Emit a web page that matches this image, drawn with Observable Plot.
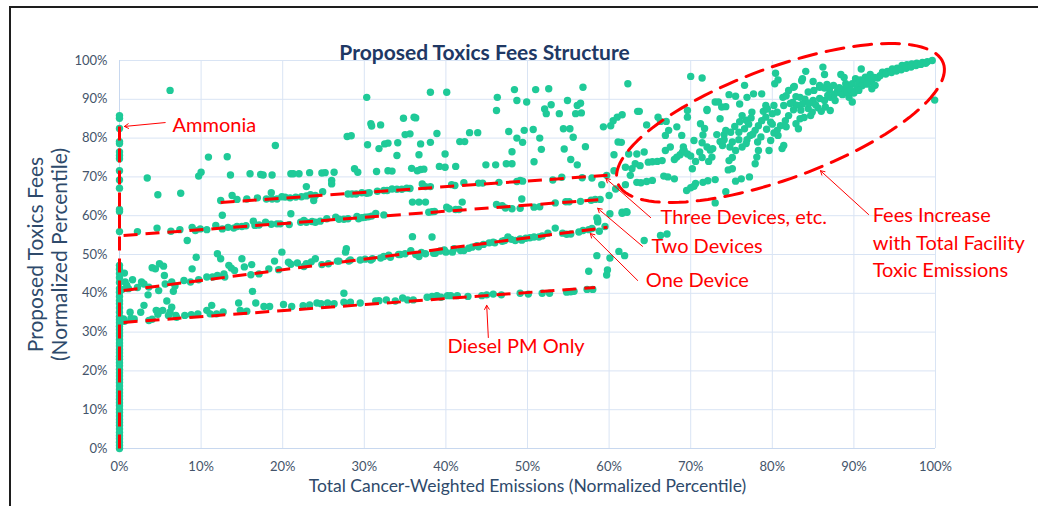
<!DOCTYPE html>
<html><head><meta charset="utf-8">
<script src="https://cdn.jsdelivr.net/npm/d3@7"></script>
<script src="https://cdn.jsdelivr.net/npm/@observablehq/plot@0.6"></script>
<style>
html,body{margin:0;padding:0;background:#fff;overflow:hidden;width:1038px;height:506px;}
#frame{position:absolute;left:9px;top:6px;width:1100px;height:600px;border:2px solid #1e1e1e;box-sizing:border-box;}
#chart{position:absolute;left:0;top:0;}
</style></head><body>
<div id="frame"></div><div id="chart"></div>
<script>
// ---------- data (x = emissions percentile %, y = fee percentile %) ----------
const xTicks = [0,10,20,30,40,50,60,70,80,90,100];
const yTicks = [0,10,20,30,40,50,60,70,80,90,100];

const ammoniaY = [0,0.8,1.6,2.5,3.3,4.1,5,5.9,6.7,7.5,8.4,9.3,10.1,11,11.8,12.7,13.5,14.4,15.2,16.1,17,17.8,18.7,19.5,20.4,21.3,22.1,23,23.8,24.7,25.5,26.4,27.2,28.1,29,29.8,30.7,31.5,32.4,33.2,34,35.1,36.2,37.3,38.1,39.2,40.3,41.2,42.8,44,45.1,46.2,47.2,55.9,61.1,61.6,67.1,69.2,71.6,74.7,75.5,76.4,78.6,79.1,82.5,85.1,85.8];

const dieselPM = [[0.5,33.4],[0.6,32.8],[1.3,35.1],[1.4,33.5],[1.8,33.4],[2.6,35.1],[3.0,36.9],[3.6,33.0],[4.0,33.3],[4.5,35.6],[4.7,34.6],[4.8,35.3],[5.3,35.6],[5.8,38.0],[6.0,34.3],[6.2,35.2],[6.4,36.4],[6.9,34.3],[7.0,33.8],[8.0,34.3],[8.8,34.5],[9.6,34.7],[10.7,35.6],[11.3,36.9],[11.1,34.7],[11.9,34.7],[12.7,35.2],[14.6,37.5],[14.8,35.6],[15.6,35.4],[16.3,40.5],[16.7,37.5],[17.7,36.6],[18.4,36.6],[20.1,37.1],[21.1,36.6],[22.5,36.8],[23.3,37.0],[24.2,37.5],[24.7,37.3],[25.5,37.5],[26.3,37.3],[27.5,40.0],[27.5,37.7],[28.3,37.7],[29.5,37.5],[31.4,38.0],[31.8,38.1],[32.7,38.3],[33.8,38.0],[34.7,38.8],[35.3,38.3],[36.0,38.3],[37.7,39.0],[38.3,39.2],[38.9,39.4],[39.4,39.0],[40.2,39.4],[40.6,39.4],[41.4,39.4],[42.7,39.2],[44.4,39.4],[45.0,39.6],[45.8,39.8],[46.8,39.6],[49.1,40.0],[50.1,39.8],[51.8,40.0],[52.7,40.0],[54.8,40.3],[55.3,40.4],[55.7,40.5],[57.3,41.0],[58.0,41.0]];

const oneDevice = [[0.3,41.0],[0.6,45.2],[0.7,42.9],[0.9,42.0],[1.1,41.2],[1.6,43.5],[2.2,41.5],[2.7,42.9],[3.0,42.4],[3.6,41.6],[3.5,39.6],[4.0,46.6],[4.4,46.3],[4.9,47.6],[5.4,47.0],[5.5,44.6],[4.8,40.7],[5.6,42.4],[6.4,42.9],[6.6,40.5],[6.8,41.9],[7.9,43.3],[8.9,46.3],[9.4,49.3],[8.7,42.9],[9.7,43.5],[10.7,44.2],[11.4,44.2],[12.0,50.2],[12.4,48.9],[12.0,44.6],[12.8,45.0],[12.9,44.2],[13.4,47.2],[13.7,46.5],[14.1,45.9],[15.0,48.9],[15.3,46.8],[16.2,47.4],[16.1,44.8],[17.1,45.0],[18.3,46.3],[19.0,48.3],[19.9,50.6],[19.5,46.1],[20.7,48.0],[21.0,47.5],[21.8,47.8],[22.6,46.9],[22.9,47.6],[23.5,48.1],[24.0,48.9],[24.8,47.4],[25.6,47.6],[26.7,48.3],[26.9,48.3],[27.7,50.6],[27.8,51.5],[28.1,48.3],[28.3,48.6],[29.5,48.6],[30.1,48.8],[30.8,48.6],[31.0,48.9],[32.0,49.1],[32.4,49.5],[33.0,49.8],[33.2,49.3],[34.2,50.0],[34.4,50.0],[35.0,50.2],[35.7,51.0],[35.9,54.6],[36.3,50.0],[36.7,49.5],[37.0,50.5],[37.5,50.2],[38.3,54.5],[38.5,50.3],[38.7,50.3],[39.3,50.9],[39.8,51.2],[40.0,50.6],[40.8,50.6],[41.0,51.5],[41.8,51.0],[42.2,51.0],[42.8,51.6],[43.2,51.9],[43.8,52.3],[44.0,52.0],[44.6,52.6],[45.3,53.0],[45.8,53.2],[46.0,53.0],[46.9,53.4],[47.2,53.6],[47.6,54.5],[48.0,53.9],[48.5,53.6],[49.1,54.0],[49.3,53.7],[49.8,54.2],[50.3,54.3],[50.8,54.5],[51.4,54.5],[51.8,54.8],[52.5,55.5],[53.4,56.8],[54.3,55.5],[54.8,55.2],[55.3,55.3],[56.3,55.8],[56.8,56.2],[57.5,56.4],[57.9,56.7],[58.8,56.0]];

const transition = [[58.5,49.7],[57.5,45.7],[59.8,46.0],[59.7,44.7],[60.1,49.1],[61.2,50.8],[61.9,49.7],[58.6,58.9],[58.6,58.4],[59.5,57.2],[60.1,60.5],[61.6,60.6],[62.2,60.9],[60.0,65.2],[58.5,59.4],[59.1,68.0],[64.3,53.6],[66.3,54.9],[67.1,55.3]];

const twoDevices = [[2.2,55.9],[4.6,56.8],[6.3,56.0],[7.4,56.4],[8.3,53.6],[8.9,57.0],[9.3,56.2],[9.9,56.6],[10.7,56.4],[11.8,57.5],[12.6,60.1],[12.6,56.6],[13.3,57.0],[14.0,56.8],[14.4,57.2],[15.0,57.2],[15.5,57.4],[16.4,58.6],[16.6,57.5],[17.1,57.6],[17.9,58.3],[18.6,57.8],[19.3,57.9],[19.7,57.9],[20.8,57.7],[21.0,60.5],[22.2,58.3],[22.6,58.8],[22.9,58.3],[23.6,58.5],[24.0,58.3],[24.6,58.6],[25.4,59.2],[26.5,59.6],[26.9,59.1],[27.5,59.1],[28.0,59.2],[29.1,59.8],[29.3,59.2],[29.7,59.5],[30.1,59.6],[30.5,59.7],[30.9,59.9],[31.4,60.6],[32.4,60.2],[35.9,63.5],[36.7,63.5],[37.5,63.5],[37.9,60.9],[38.3,61.0],[38.6,61.1],[40.1,62.2],[40.4,61.8],[41.2,61.6],[41.6,61.6],[42.0,63.5],[46.2,62.9],[46.9,62.6],[47.3,62.0],[48.1,61.8],[49.3,64.3],[49.1,61.9],[50.8,62.2],[51.5,62.3],[53.4,63.3],[54.7,63.6],[55.1,63.6],[56.5,63.7],[57.8,64.0],[58.3,64.2],[58.9,64.2]];

const threeDevices = [[12.4,63.9],[13.8,65.2],[14.4,64.2],[15.6,64.3],[16.9,64.6],[18.0,64.3],[18.7,64.3],[19.3,64.3],[19.9,64.9],[20.3,64.8],[20.9,64.6],[21.6,64.8],[22.3,64.9],[22.9,65.1],[23.4,65.4],[23.8,63.9],[24.0,65.2],[24.9,66.2],[28.0,65.6],[28.5,65.6],[29.0,65.6],[29.7,65.9],[30.3,65.8],[30.6,65.9],[31.6,66.3],[32.4,66.5],[32.8,66.5],[33.4,66.9],[34.0,66.8],[34.6,66.8],[35.2,67.1],[35.6,67.0],[37.1,68.2],[37.5,67.5],[38.1,67.5],[40.7,68.0],[41.1,67.8],[42.2,68.5],[44.0,68.4],[44.5,68.4],[46.5,68.6],[48.7,68.8],[49.1,69.1],[49.4,68.9],[53.1,69.2],[54.2,69.9],[56.7,69.8],[57.9,69.7],[59.7,70.4]];

const scattered = [[6.2,92.3],[3.4,69.7],[4.7,65.4],[7.5,65.8],[9.7,70.2],[10.0,71.2],[10.9,75.1],[13.2,75.2],[13.6,70.5],[16.0,70.8],[17.3,70.6],[17.6,70.5],[18.7,70.5],[18.6,65.9],[19.1,78.1],[21.0,70.8],[21.3,70.8],[22.0,70.8],[22.9,67.5],[23.3,71.1],[24.8,71.0],[25.2,71.1],[26.0,69.1],[26.0,68.2],[26.3,71.2],[27.9,80.4],[28.4,80.6],[28.8,72.1],[29.2,71.2],[30.3,90.5],[30.8,83.7],[30.9,83.1],[32.0,83.4],[30.4,78.3],[31.8,77.3],[31.5,71.4],[32.5,78.5],[32.9,78.7],[32.9,71.6],[33.4,71.5],[34.0,75.5],[34.1,78.8],[34.8,85.1],[35.0,80.9],[35.6,81.1],[36.1,85.4],[36.3,85.2],[36.7,75.7],[36.9,78.5],[35.8,72.2],[36.5,71.6],[36.9,71.9],[37.3,72.0],[38.1,91.8],[38.1,78.9],[38.9,81.2],[39.2,72.7],[39.9,72.5],[39.9,75.9],[40.1,91.8],[41.2,72.7],[41.7,79.1],[42.3,79.1],[42.9,81.4],[43.9,81.4],[44.9,73.1],[46.1,73.1],[46.2,87.1],[46.3,90.5],[47.4,73.4],[47.7,81.7],[48.1,76.5],[48.4,92.5],[48.7,89.7],[48.1,73.4],[48.7,80.0],[49.9,89.3],[49.6,82.0],[49.4,78.9],[50.7,82.2],[50.8,73.9],[51.0,92.5],[51.5,80.0],[51.7,77.1],[52.1,87.5],[52.3,86.3],[52.6,92.7],[52.9,88.6],[53.9,86.3],[54.4,82.4],[54.5,77.2],[54.9,89.7],[55.2,82.4],[55.3,74.5],[55.6,80.2],[55.9,86.3],[56.1,88.4],[56.1,73.1],[56.5,89.0],[56.6,86.5],[56.8,93.1],[57.1,77.8],[62.3,94.0],[61.6,60.9],[62.1,61.0]];

const highEmitters = [[59.3,82.9],[60.2,83.2],[60.5,84.5],[61.0,85.4],[61.6,86.0],[63.5,86.9],[60.6,75.7],[61.1,79.0],[61.5,78.9],[60.6,71.6],[60.8,66.9],[62.0,68.0],[62.6,70.4],[62.0,72.5],[62.4,75.9],[62.8,72.1],[63.2,73.4],[63.4,75.9],[63.8,72.9],[64.3,76.4],[64.8,73.8],[65.3,73.9],[65.9,74.0],[66.5,74.2],[63.4,68.6],[63.9,68.5],[64.6,68.8],[65.3,69.1],[66.7,70.2],[67.2,70.0],[68.0,69.5],[69.5,66.5],[70.0,67.2],[70.4,67.6],[70.6,68.3],[71.5,68.6],[72.1,69.0],[73.0,69.3],[74.3,66.2],[73.0,63.3],[66.9,76.8],[67.5,77.7],[68.0,74.5],[68.3,75.1],[68.7,75.7],[69.0,76.4],[69.2,76.8],[69.6,75.9],[70.0,75.4],[70.2,72.1],[70.6,74.0],[71.1,76.4],[71.4,75.0],[70.4,79.4],[71.4,78.8],[72.0,77.7],[72.2,74.0],[72.6,75.1],[72.4,76.9],[72.7,77.3],[73.6,79.1],[73.9,78.1],[74.1,80.9],[73.2,80.9],[74.3,82.0],[74.1,79.6],[66.9,80.7],[67.3,82.0],[68.3,82.9],[68.9,80.7],[69.6,85.4],[66.3,84.3],[64.6,83.4],[67.0,84.3],[71.2,83.7],[71.7,82.5],[71.5,80.8],[72.0,87.4],[73.0,89.3],[73.8,88.0],[73.6,85.0],[70.0,95.9],[71.4,95.5],[74.7,91.2],[75.5,90.8],[76.6,93.6],[76.9,90.5],[77.7,91.4],[78.7,91.4],[80.3,94.0],[80.7,95.0],[80.4,96.7],[82.7,93.3],[84.1,97.2],[83.6,94.8],[83.7,95.3],[85.0,94.6],[86.2,98.3],[86.4,96.4],[86.7,93.8],[85.8,93.1],[88.4,96.4],[88.8,95.6],[89.0,94.0],[90.9,97.8],[74.3,88.1],[76.0,88.8],[77.5,86.7],[79.2,88.4],[80.2,88.4],[81.3,90.5],[81.7,90.9],[82.0,92.3],[82.6,93.1],[82.9,90.7],[81.4,88.4],[82.5,89.2],[83.4,90.5],[84.0,90.0],[84.4,91.9],[85.1,92.3],[85.8,93.6],[86.4,92.9],[87.0,92.5],[87.5,93.6],[85.0,89.7],[85.8,90.2],[86.4,89.7],[87.1,90.5],[87.7,89.7],[88.3,91.7],[88.9,92.7],[89.4,90.5],[89.8,89.3],[89.1,93.3],[89.8,94.0],[90.2,95.3],[90.8,95.0],[91.4,95.7],[92.0,96.4],[92.2,94.4],[92.6,93.6],[92.2,92.7],[92.9,95.5],[93.5,97.0],[94.1,97.2],[94.7,97.8],[95.3,98.0],[95.9,98.7],[96.5,98.9],[97.1,99.1],[97.7,99.3],[98.4,99.5],[99.0,99.7],[99.6,100],[93.2,96.1],[93.9,96.5],[94.6,96.9],[95.2,97.3],[95.8,97.6],[96.4,98.0],[97.0,98.3],[97.6,98.7],[98.2,99.0],[98.8,99.3],[90.6,94.2],[91.2,94.6],[91.8,95.2],[92.5,95.6],[99.9,89.8],[86.5,88.0],[87.1,87.1],[85.6,87.8],[84.4,87.6],[84.7,85.8],[83.4,85.0],[82.6,87.3],[82.0,85.8],[81.6,84.5],[81.0,83.2],[80.6,86.7],[80.0,86.3],[79.2,85.4],[79.8,84.1],[78.7,84.5],[78.3,83.2],[77.9,82.0],[77.3,80.7],[76.9,79.6],[76.6,82.4],[75.9,81.5],[75.9,79.6],[75.4,83.0],[74.9,81.5],[75.1,79.0],[76.3,77.7],[75.5,76.8],[74.7,74.2],[75.1,75.0],[78.3,76.8],[78.1,75.1],[79.6,76.8],[77.9,73.4],[80.6,82.0],[80.7,80.7],[81.4,78.1],[81.2,77.3],[80.2,81.3],[82.9,83.7],[83.2,82.4],[83.9,85.3],[81.7,82.9],[75.1,72.1],[74.6,71.8],[77.2,70.0],[76.2,69.5],[75.5,68.9],[74.8,77.7],[73.4,89.3],[72.0,87.1],[69.6,87.1],[66.0,85.4],[63.7,86.9],[69.1,77.7],[76.8,84.6],[77.4,85.2],[78.9,86.9],[79.4,87.5],[77.1,83.6],[76.3,85.8],[88.0,92.2],[88.6,91.2],[89.2,91.8],[89.6,92.4],[90.4,93.0],[90.0,91.6],[87.6,91.3],[86.8,91.0],[88.2,93.0],[91.0,93.5],[91.6,93.9],[90.6,92.3],[83.0,88.5],[83.7,88.8],[84.5,89.0],[85.3,88.6],[82.2,88.9],[84.9,86.7],[86.0,86.9],[83.5,87.2],[76.0,84.2],[77.6,81.0],[78.6,80.3],[79.3,82.3],[80.0,83.6],[78.2,79.0],[79.8,79.4],[76.8,78.6]];

// annotation guide lines (x1,y1,x2,y2 in %)
const guideNames = ["Ammonia","Diesel PM Only","One Device","Two Devices","Three Devices"];
const guideX1 = [0, 0.5, 0.5, 0.5, 12.4];
const guideY1 = [0, 32.5, 40.7, 54.9, 63.4];
const guideX2 = [0, 58.3, 59.8, 59.3, 59.8];
const guideY2 = [85, 41.5, 57.0, 64.2, 70.4];

const labelText = ["Ammonia","Three Devices, etc.","Two Devices","One Device","Diesel PM Only","Fees Increase\nwith Total Facility\nToxic Emissions"];
const labelX = [6.5, 66.3, 65.2, 64.5, 40.2, 92.3];
const labelY = [84.0, 60.3, 52.7, 43.9, 26.8, 53.6];
const arrowX1 = [5.6, 65.1, 64.1, 63.5, 45.2, 91.8];
const arrowY1 = [84.0, 59.5, 52.1, 43.3, 28.6, 60.3];
const arrowX2 = [0.6, 59.6, 58.6, 57.7, 45.0, 85.9];
const arrowY2 = [83.0, 69.6, 61.9, 55.4, 36.9, 71.6];

// ---------- build ----------
const W = 1038, H = 506, mL = 119, mR = 103, mT = 60, mB = 58;
const kx = (W - mL - mR) / 100, ky = (H - mT - mB) / 100;

const points = [
  ...ammoniaY.map(y => ({x: 0, y})),
  ...[dieselPM, oneDevice, transition, twoDevices, threeDevices, scattered, highEmitters].flat().map(([x, y]) => ({x, y}))
];
const guides = guideNames.map((n, i) => ({n, x1: guideX1[i], y1: guideY1[i], x2: guideX2[i], y2: guideY2[i]}));
const labels = labelText.map((t, i) => ({t, x: labelX[i], y: labelY[i], x1: arrowX1[i], y1: arrowY1[i], x2: arrowX2[i], y2: arrowY2[i]}));

// ellipse annotation (center in %, semi-axes in px, rotation in degrees)
const ell = {cx: 81.0, cy: 83.9, a: 173.5, b: 55.7, rot: -20.2};
const phi = ell.rot * Math.PI / 180;
const ellipse = d3.range(0, 361, 3).map(deg => {
  const t = deg * Math.PI / 180;
  const dx = ell.a * Math.cos(t) * Math.cos(phi) - ell.b * Math.sin(t) * Math.sin(phi);
  const dy = ell.a * Math.cos(t) * Math.sin(phi) + ell.b * Math.sin(t) * Math.cos(phi);
  return {x: ell.cx + dx / kx, y: ell.cy - dy / ky};
});

const red = "#ff0000";
const axisColor = "#2e4a6b";
const chart = Plot.plot({
  width: W, height: H, marginLeft: mL, marginRight: mR, marginTop: mT, marginBottom: mB,
  style: {fontFamily: "Lato, 'Open Sans', sans-serif", background: "transparent", overflow: "visible"},
  x: {domain: [0, 100]},
  y: {domain: [0, 100]},
  marks: [
    Plot.gridX(xTicks, {stroke: "#d9e4f4", strokeOpacity: 1}),
    Plot.gridY(yTicks, {stroke: "#d9e4f4", strokeOpacity: 1}),
    Plot.ruleX([0], {stroke: "#c8d8ef"}),
    Plot.ruleY([0], {stroke: "#c8d8ef"}),
    Plot.axisX(xTicks, {tickSize: 0, tickPadding: 13, tickFormat: d => d + "%", fontSize: 13, fill: "#44546a", label: null}),
    Plot.axisY(yTicks, {tickSize: 0, tickPadding: 12, tickFormat: d => d + "%", fontSize: 13, fill: "#44546a", label: null}),
    Plot.dot(points, {x: "x", y: "y", r: 3.7, fill: "#1fca98", stroke: null}),
    Plot.link(guides, {x1: "x1", y1: "y1", x2: "x2", y2: "y2", stroke: red, strokeWidth: 3, strokeDasharray: "14,8"}),
    Plot.line(ellipse, {x: "x", y: "y", stroke: red, strokeWidth: 3, strokeDasharray: "18,10", curve: "linear"}),
    Plot.arrow(labels, {x1: "x1", y1: "y1", x2: "x2", y2: "y2", stroke: red, strokeWidth: 1, headLength: 7}),
    Plot.text(labels, {x: "x", y: "y", text: "t", fill: red, fontSize: 20, textAnchor: "start", lineHeight: 1.4}),
    Plot.text(["Proposed Toxics Fees Structure"], {frameAnchor: "top", dx: -43, dy: -15, fontSize: 21, fontWeight: "bold", fill: "#203864"}),
    Plot.text(["Total Cancer-Weighted Emissions (Normalized Percentile)"], {frameAnchor: "bottom", dy: 43, fontSize: 17.5, fill: axisColor}),
    Plot.text(["Proposed Toxics Fees"], {frameAnchor: "left", textAnchor: "middle", dx: -83, rotate: -90, fontSize: 21, fill: axisColor}),
    Plot.text(["(Normalized Percentile)"], {frameAnchor: "left", textAnchor: "middle", dx: -59, rotate: -90, fontSize: 21, fill: axisColor})
  ]
});
document.getElementById("chart").appendChild(chart);
</script>
</body></html>
